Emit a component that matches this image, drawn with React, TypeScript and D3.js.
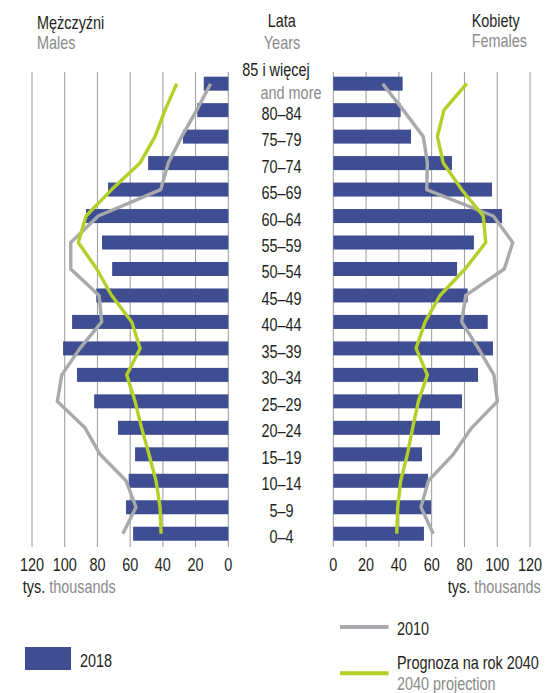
import React from "react";
import * as d3 from "d3";

const ages = ["85 i więcej", "80–84", "75–79", "70–74", "65–69", "60–64", "55–59", "50–54", "45–49", "40–44", "35–39", "30–34", "25–29", "20–24", "15–19", "10–14", "5–9", "0–4"];
const male2018 = [15, 19, 27.7, 49, 73.5, 87, 77.2, 71, 80.7, 95.5, 101, 92.5, 82, 67.4, 57, 60.9, 62.5, 58.2];
const male2010 = [10.8, 19.3, 28.5, 36.7, 41.3, 79.5, 96.3, 96.3, 79, 77.4, 90.7, 101.8, 104.5, 87.6, 78.4, 62.5, 56.4, 64.5];
const male2040 = [31.5, 38.7, 44.8, 54, 71.3, 87, 91.7, 80.4, 71.3, 59, 53.9, 62.1, 57, 53, 48.5, 44.2, 41.7, 41.1];
const female2018 = [42.3, 41.1, 47.4, 72.4, 96.8, 102.9, 85.8, 75.5, 82, 94.2, 97.4, 88.3, 78.5, 65.1, 54.1, 57.8, 59.6, 55.3];
const female2010 = [30.1, 42.7, 54.9, 57.4, 57, 97.6, 109.5, 104.3, 80.8, 78.3, 88.5, 98, 100.1, 84.4, 73.2, 58, 53.5, 61];
const female2040 = [81.4, 67.5, 63.5, 67.1, 78.3, 91.5, 93, 80.4, 65.1, 56, 50.5, 57.4, 51.9, 48.4, 45.2, 41.1, 39.3, 38.7];
const ticks = [0, 20, 40, 60, 80, 100, 120];

const FONT = "'Liberation Sans', Arial, sans-serif";
const BLUE = "#3f4e93";
const GRAY_LINE = "#a7a9ac";
const GREEN = "#b3cf28";
const GRID = "#9a9a9a";
const DARK = "#231f20";
const GRAY_TEXT = "#8a8a8a";
const FS = 18.5;
const SX = 0.78;

function T({ x, y, anchor = "start", fill = DARK, children }: any) {
  return (
    <text transform={`translate(${x},${y}) scale(${SX},1)`} fontSize={FS} fill={fill} textAnchor={anchor}>
      {children}
    </text>
  );
}

export default function App() {
  const y = d3.scaleBand<string>().domain(ages).range([64.2, 553.2]).padding(0.471);
  const xL = d3.scaleLinear().domain([0, 120]).range([228.3, 32]);
  const xR = d3.scaleLinear().domain([0, 120]).range([333.3, 530]);
  const cy = (a: string) => (y(a) as number) + y.bandwidth() / 2;

  const lineL = d3.line<number>().x((v) => xL(v)).y((_, i) => cy(ages[i]));
  const lineR = d3.line<number>().x((v) => xR(v)).y((_, i) => cy(ages[i]));

  return (
    <svg width={556} height={693} style={{ position: "absolute", left: 0, top: 0 }} fontFamily={FONT}>
      <rect width={556} height={693} fill="#fff" />
      {/* headings */}
      <T x={37} y={29.3}>Mężczyźni</T>
      <T x={37} y={49.3} fill={GRAY_TEXT}>Males</T>
      <T x={281.7} y={27.3} anchor="middle">Lata</T>
      <T x={282} y={49.3} anchor="middle" fill={GRAY_TEXT}>Years</T>
      <T x={471.7} y={26.5}>Kobiety</T>
      <T x={471.7} y={46.7} fill={GRAY_TEXT}>Females</T>

      {/* grid */}
      {ticks.map((t) => (
        <g key={"g" + t}>
          <line x1={xL(t)} x2={xL(t)} y1={72} y2={547} stroke={GRID} strokeWidth={1} />
          <line x1={xR(t)} x2={xR(t)} y1={72} y2={547} stroke={GRID} strokeWidth={1} />
        </g>
      ))}

      {/* bars */}
      {ages.map((a, i) => (
        <g key={"b" + a}>
          <rect x={xL(male2018[i])} y={y(a)} width={xL(0) - xL(male2018[i])} height={y.bandwidth()} fill={BLUE} />
          <rect x={xR(0)} y={y(a)} width={xR(female2018[i]) - xR(0)} height={y.bandwidth()} fill={BLUE} />
        </g>
      ))}

      {/* lines */}
      <path d={lineL(male2010) || ""} fill="none" stroke={GRAY_LINE} strokeWidth={3.4} strokeLinejoin="round" />
      <path d={lineL(male2040) || ""} fill="none" stroke={GREEN} strokeWidth={3.4} strokeLinejoin="round" />
      <path d={lineR(female2010) || ""} fill="none" stroke={GRAY_LINE} strokeWidth={3.4} strokeLinejoin="round" />
      <path d={lineR(female2040) || ""} fill="none" stroke={GREEN} strokeWidth={3.4} strokeLinejoin="round" />

      {/* age labels */}
      {ages.map((a, i) =>
        i === 0 ? (
          <g key={"l" + a}>
            <T x={276} y={76} anchor="middle">{a}</T>
            <T x={291} y={99.3} anchor="middle" fill={GRAY_TEXT}>and more</T>
          </g>
        ) : (
          <T key={"l" + a} x={281.5} y={cy(a) + 9.5} anchor="middle">{a}</T>
        )
      )}

      {/* tick labels */}
      {ticks.map((t) => (
        <g key={"t" + t}>
          <T x={xL(t)} y={570.7} anchor="middle">{t}</T>
          <T x={xR(t)} y={570.7} anchor="middle">{t}</T>
        </g>
      ))}
      <T x={22.7} y={592.7}>
        <tspan fill={DARK}>tys.</tspan>
        <tspan fill={GRAY_TEXT}> thousands</tspan>
      </T>
      <T x={540.7} y={592.7} anchor="end">
        <tspan fill={DARK}>tys.</tspan>
        <tspan fill={GRAY_TEXT}> thousands</tspan>
      </T>

      {/* legend */}
      <rect x={25} y={647} width={46} height={23} fill={BLUE} />
      <T x={80} y={667}>2018</T>
      <line x1={340} x2={388.6} y1={627} y2={627} stroke={GRAY_LINE} strokeWidth={4} />
      <T x={397} y={635}>2010</T>
      <line x1={340} x2={388.6} y1={673.3} y2={673.3} stroke={GREEN} strokeWidth={4} />
      <T x={397} y={669}>Prognoza na rok 2040</T>
      <T x={397} y={690} fill={GRAY_TEXT}>2040 projection</T>
    </svg>
  );
}
